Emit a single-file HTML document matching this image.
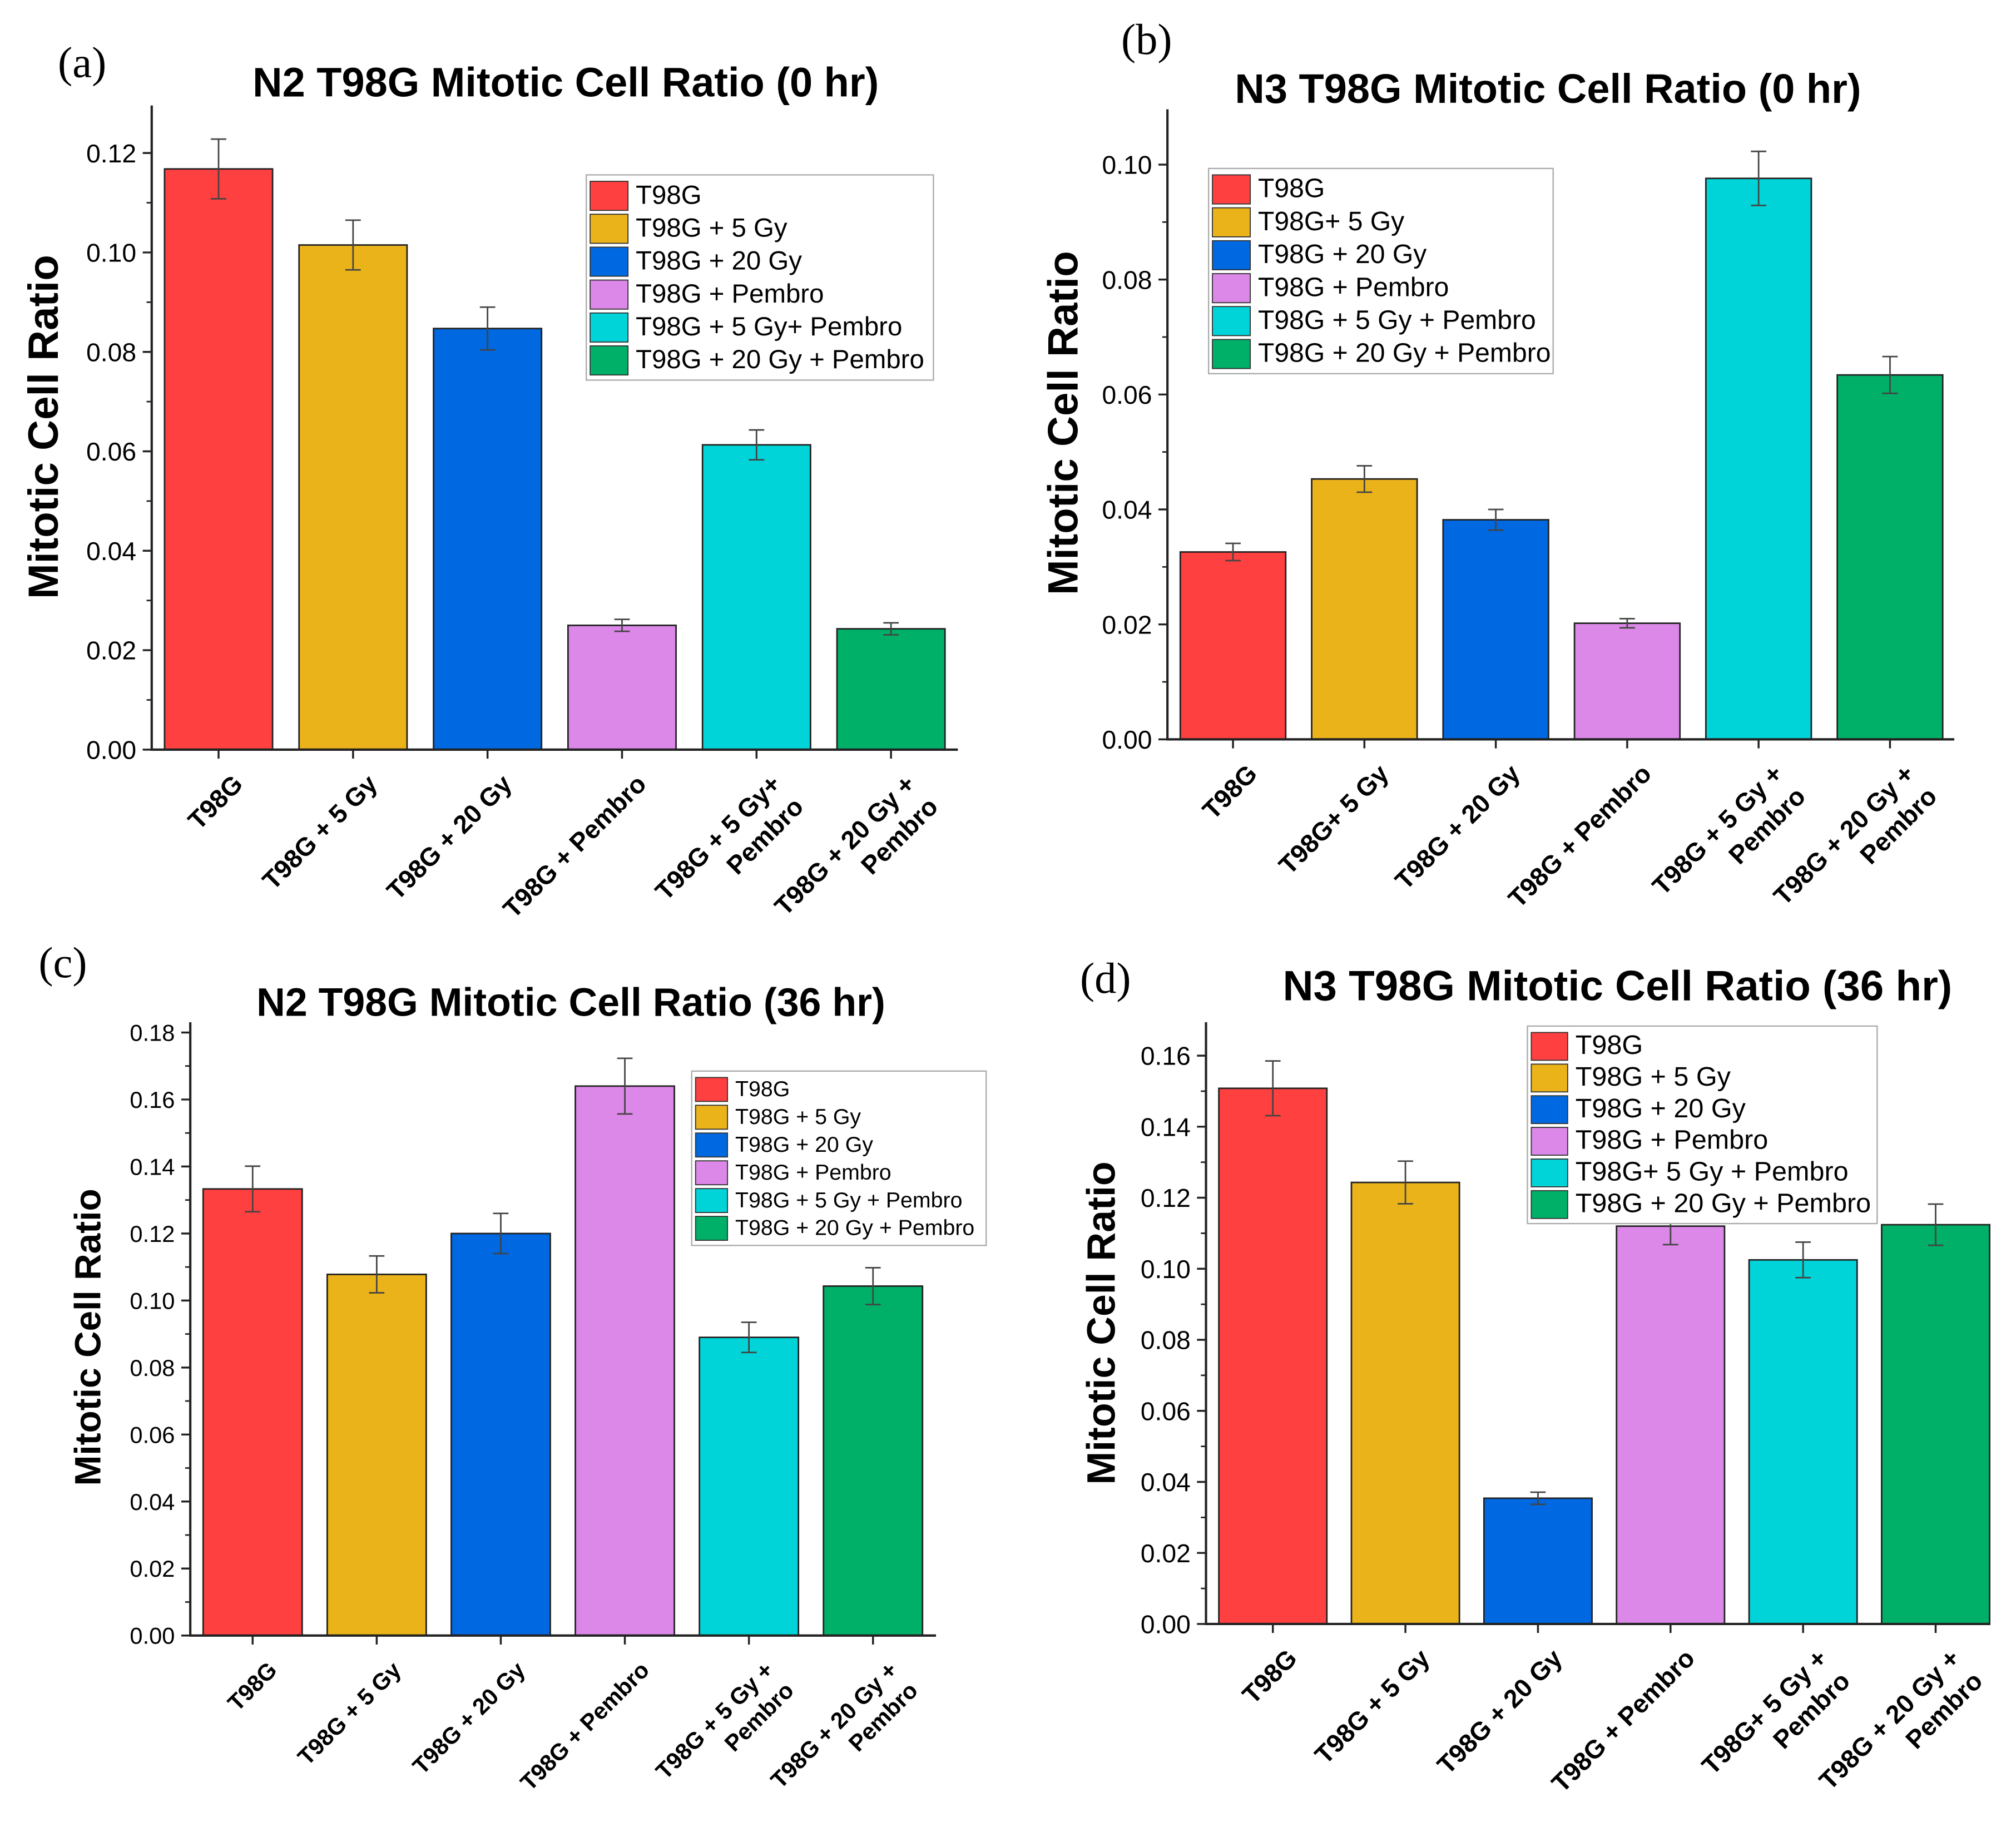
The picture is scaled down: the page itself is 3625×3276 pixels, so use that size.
<!DOCTYPE html>
<html><head><meta charset="utf-8"><style>
html,body{margin:0;padding:0;background:#fff}
svg{display:block}
</style></head><body>
<svg id="fig" xmlns="http://www.w3.org/2000/svg" width="3625" height="3276" viewBox="0 0 1568 1417" font-family="Liberation Sans, Arial, sans-serif"></svg>
<script>
const colors=["#ff4040","#ebb31a","#0068e0","#dc88e8","#00d4d8","#00b068"];
const catsA=["T98G","T98G + 5 Gy","T98G + 20 Gy","T98G + Pembro","T98G + 5 Gy+|Pembro","T98G + 20 Gy +|Pembro"];
const legA=["T98G","T98G + 5 Gy","T98G + 20 Gy","T98G + Pembro","T98G + 5 Gy+ Pembro","T98G + 20 Gy + Pembro"];
const valsA=[0.1168,0.1015,0.0847,0.0250,0.0613,0.0243];
const errA=[0.0060,0.0050,0.0043,0.0012,0.0030,0.0012];
const ticksA=["0.00","0.02","0.04","0.06","0.08","0.10","0.12"];
const catsB=["T98G","T98G+ 5 Gy","T98G + 20 Gy","T98G + Pembro","T98G + 5 Gy +|Pembro","T98G + 20 Gy +|Pembro"];
const legB=["T98G","T98G+ 5 Gy","T98G + 20 Gy","T98G + Pembro","T98G + 5 Gy + Pembro","T98G + 20 Gy + Pembro"];
const valsB=[0.0326,0.0453,0.0382,0.0202,0.0976,0.0634];
const errB=[0.0015,0.0023,0.0018,0.0008,0.0047,0.0032];
const ticksB=["0.00","0.02","0.04","0.06","0.08","0.10"];
const catsC=["T98G","T98G + 5 Gy","T98G + 20 Gy","T98G + Pembro","T98G + 5 Gy +|Pembro","T98G + 20 Gy +|Pembro"];
const legC=["T98G","T98G + 5 Gy","T98G + 20 Gy","T98G + Pembro","T98G + 5 Gy + Pembro","T98G + 20 Gy + Pembro"];
const valsC=[0.1333,0.1078,0.1200,0.1640,0.0890,0.1043];
const errC=[0.0068,0.0055,0.0060,0.0083,0.0045,0.0055];
const ticksC=["0.00","0.02","0.04","0.06","0.08","0.10","0.12","0.14","0.16","0.18"];
const catsD=["T98G","T98G + 5 Gy","T98G + 20 Gy","T98G + Pembro","T98G+ 5 Gy +|Pembro","T98G + 20 Gy +|Pembro"];
const legD=["T98G","T98G + 5 Gy","T98G + 20 Gy","T98G + Pembro","T98G+ 5 Gy + Pembro","T98G + 20 Gy + Pembro"];
const valsD=[0.1508,0.1243,0.0354,0.1120,0.1025,0.1124];
const errD=[0.0077,0.0060,0.0017,0.0052,0.0050,0.0058];
const ticksD=["0.00","0.02","0.04","0.06","0.08","0.10","0.12","0.14","0.16"];

const NS="http://www.w3.org/2000/svg";
const svg=document.getElementById('fig');
function mk(tag,attrs,parent){const e=document.createElementNS(NS,tag);for(const k in attrs)e.setAttribute(k,attrs[k]);(parent||svg).appendChild(e);return e;}

function panel(p){
  const g=mk('g',{});
  
  
  const tmax=parseFloat(p.ticks[p.ticks.length-1]);
  const y=v=>p.y0-(v/tmax)*(p.y0-p.yTop);
  const step=(p.x1-p.xb0)/5;
  const cx=i=>p.xb0+i*step;
  const lab=mk('text',{x:p.labX,y:p.labY,'font-size':34,style:'font-family:"Liberation Serif",serif'},g);lab.textContent='('+p.id+')';
  
  const t=mk('text',{x:p.titleX,y:p.titleY,'font-size':p.titleFs,'font-weight':'bold','text-anchor':'middle'},g);t.textContent=p.title;
  
  const yl=mk('text',{x:0,y:0,'font-size':p.ylFs,'font-weight':'bold','text-anchor':'middle',transform:`translate(${p.ylX},${p.ylY}) rotate(-90)`},g);yl.textContent='Mitotic Cell Ratio';
  
  p.vals.forEach((v,i)=>{
    const r=mk('rect',{x:cx(i)-p.bw/2,y:y(v),width:p.bw,height:p.y0-y(v),fill:colors[i],stroke:'#222','stroke-width':1.2},g);
    
    const e=p.errs[i],c=cx(i);
    const eb=mk('path',{d:`M${c},${y(v+e)}V${y(v-e)}M${c-6},${y(v+e)}H${c+6}M${c-6},${y(v-e)}H${c+6}`,stroke:'#444','stroke-width':1.2,fill:'none'},g);
    
    const lines=p.cats[i].split('|');
    const tx=mk('text',{x:0,y:0,'font-size':p.xFs,'font-weight':'bold','text-anchor':'end',transform:`translate(${c+20},${p.y0+28}) rotate(-45)`},g);
    
    lines.forEach((s,j)=>{const ts=mk('tspan',{x:0,dy:j?p.xFs*1.25:0},tx);ts.textContent=s;});
  });
  const ax=mk('path',{d:`M${p.xa},${p.axTop}V${p.y0}H${p.xr}`,stroke:'#222','stroke-width':1.8,fill:'none'},g);
  
  p.ticks.forEach((s,i)=>{
    const v=parseFloat(s),yy=y(v);
    mk('line',{x1:p.xa-7,x2:p.xa,y1:yy,y2:yy,stroke:'#222','stroke-width':1.5},g);
    if(i<p.ticks.length-1){const ym=y(v+tmax/(p.ticks.length-1)/2);mk('line',{x1:p.xa-4,x2:p.xa,y1:ym,y2:ym,stroke:'#222','stroke-width':1.2},g);}
    const tl=mk('text',{x:p.xa-12,y:yy+p.tFs*0.36,'font-size':p.tFs,'text-anchor':'end'},g);tl.textContent=s;
    
  });
  for(let i=0;i<6;i++)mk('line',{x1:cx(i),x2:cx(i),y1:p.y0,y2:p.y0+7,stroke:'#222','stroke-width':1.5},g);
  const lg=mk('g',{},g);
  mk('rect',{x:p.lx,y:p.ly,width:p.lw,height:p.lrow*6+6,fill:'#fff',stroke:'#aaa','stroke-width':1},lg);
  p.leg.forEach((s,i)=>{
    const yy=p.ly+4+i*p.lrow;
    mk('rect',{x:p.lx+3,y:yy+1,width:p.lrow*1.15,height:p.lrow-3,fill:colors[i],stroke:'#333','stroke-width':0.8},lg);
    const lt=mk('text',{x:p.lx+p.lrow*1.15+9,y:yy+p.lrow*0.72,'font-size':p.lFs},lg);lt.textContent=s;
    
  });
}
panel({id:'a',title:'N2 T98G Mitotic Cell Ratio (0 hr)',cats:catsA,leg:legA,vals:valsA,errs:errA,ticks:ticksA,
 xa:118,xr:745,y0:583,yTop:119,axTop:82,xb0:170,x1:693,bw:84,labX:45,labY:60,titleX:440,titleY:75,titleFs:32,ylX:45,ylY:332,ylFs:33,tFs:20,xFs:20,
 lx:456,ly:136,lw:270,lrow:25.6,lFs:20.5});
panel({id:'b',title:'N3 T98G Mitotic Cell Ratio (0 hr)',cats:catsB,leg:legB,vals:valsB,errs:errB,ticks:ticksB,
 xa:908,xr:1520,y0:575,yTop:128,axTop:85,xb0:959,x1:1470,bw:82,labX:872,labY:42,titleX:1204,titleY:80,titleFs:32,ylX:838,ylY:329,ylFs:33,tFs:20,xFs:20,
 lx:940,ly:131,lw:268,lrow:25.6,lFs:20.8});
panel({id:'c',title:'N2 T98G Mitotic Cell Ratio (36 hr)',cats:catsC,leg:legC,vals:valsC,errs:errC,ticks:ticksC,
 xa:148,xr:728,y0:1272,yTop:803,axTop:795,xb0:196.5,x1:679,bw:77,labX:30,labY:760,titleX:444,titleY:790,titleFs:31,ylX:78,ylY:1040,ylFs:28.5,tFs:18,xFs:18,
 lx:538,ly:833,lw:229,lrow:21.6,lFs:17});
panel({id:'d',title:'N3 T98G Mitotic Cell Ratio (36 hr)',cats:catsD,leg:legD,vals:valsD,errs:errD,ticks:ticksD,
 xa:938,xr:1548,y0:1263,yTop:821,axTop:795,xb0:990,x1:1505.5,bw:84,labX:840,labY:772,titleX:1258,titleY:778,titleFs:33,ylX:867,ylY:1029,ylFs:31,tFs:20,xFs:20,
 lx:1188,ly:798,lw:272,lrow:24.6,lFs:21});
</script>
</body></html>
